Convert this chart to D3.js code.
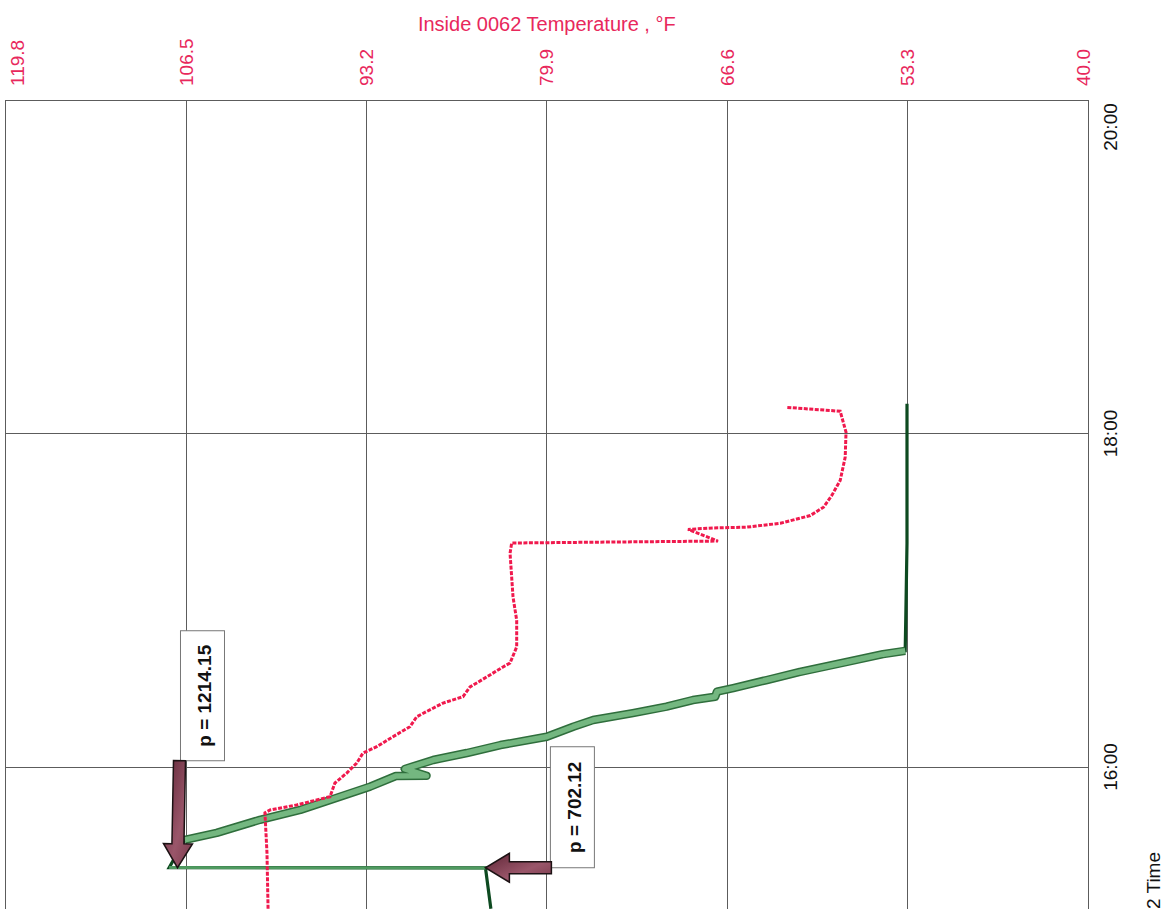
<!DOCTYPE html>
<html>
<head>
<meta charset="utf-8">
<script src="https://cdnjs.cloudflare.com/ajax/libs/d3/7.8.5/d3.min.js"></script>
<style>
  html, body { margin: 0; padding: 0; background: #fff; overflow: hidden; }
  svg { display: block; font-family: "Liberation Sans", Arial, sans-serif; }
  .gridline { stroke: #5c5c5c; stroke-width: 1; shape-rendering: crispEdges; }
  .temp-tick { fill: #e8285c; font-size: 19px; }
  .time-tick { fill: #111; font-size: 19px; }
  .callout-text { fill: #111; font-size: 19px; font-weight: bold; }
</style>
</head>
<body>
<div id="chart"></div>
<script>
// Axis ticks
const tempTicks = [119.8, 106.5, 93.2, 79.9, 66.6, 53.3, 40.0];
const timeTicks = ["16:00:00", "18:00:00", "20:00:00"];

// Inside 0062 Temperature, °F
const tempTimes = ["15:09:00", "15:29:06", "15:43:30", "15:44:33", "15:46:21", "15:48:08", "15:49:20",
  "15:54:15", "15:57:50", "16:01:26", "16:05:02", "16:07:18", "16:10:54", "16:14:30", "16:18:06",
  "16:23:00", "16:25:18", "16:28:48", "16:32:24", "16:36:00", "16:37:24", "16:43:12", "16:52:48",
  "17:01:12", "17:16:54", "17:20:36", "17:21:18", "17:25:30", "17:26:00", "17:26:18", "17:27:42",
  "17:30:30", "17:33:30", "17:37:42", "17:43:06", "17:51:30", "18:00:30", "18:08:00", "18:09:24"];
const tempValues = [100.45, 100.53, 100.68, 100.3, 98.34, 96.86, 95.88,
  95.52, 94.65, 93.91, 93.45, 92.44, 91.24, 89.99, 89.49,
  87.55, 86.08, 85.56, 84.33, 83.13, 82.61, 82.12, 82.12,
  82.39, 82.61, 82.49, 67.28, 69.49, 67.65, 65.16, 62.68,
  60.47, 59.5, 58.89, 58.27, 57.9, 57.84, 58.27, 62.21];

// Pressure, psi (second series, axis 1500 .. -300 not shown)
const pressureTimes = ["15:09:00", "15:23:42", "15:23:48", "15:33:48", "15:36:18", "15:41:00", "15:44:33",
  "15:48:08", "15:52:55", "15:56:46", "15:56:50", "15:59:17", "16:02:31", "16:05:02", "16:07:54",
  "16:10:54", "16:14:30", "16:16:54", "16:19:24", "16:21:42", "16:24:06", "16:25:18", "16:27:06",
  "16:28:24", "16:31:18", "16:34:12", "16:37:48", "16:40:36", "16:41:48", "16:54:00", "17:20:30", "18:10:42"];
const pressureValues = [693, 702, 1228, 1202, 1149, 1077, 1010,
  960, 894, 851, 800, 836, 789, 733, 677,
  600, 556, 523, 457, 401, 357, 320, 317,
  290, 234, 179, 101, 41, 4, 3, 1, 1];
const pressureDomain = [1500, -300];
const bleedStart = "15:33:48";
const bleedEnd = "16:41:48";

// Callouts
const calloutLabels = ["p = 1214.15", "p = 702.12"];
const calloutValues = [1214.15, 702.12];
const calloutTimes = ["15:23:45", "15:23:45"];

class RotatedChart {

  constructor(_config) {
    this.config = {
      parentElement: _config.parentElement,
      containerWidth: 1176,
      containerHeight: 909
    };
    this.config.margin = { top: 100, left: 5.6, right: 88, bottom: 0 };
    this.config.width = 1082.4;
    this.config.height = 667;
    this.initVis();
  }

  initVis() {
    let vis = this;
    const parse = d3.timeParse("%H:%M:%S");
    vis.parse = parse;

    vis.svg = d3.select(vis.config.parentElement).append("svg")
        .attr("width", vis.config.containerWidth)
        .attr("height", vis.config.containerHeight);

    vis.chart = vis.svg.append("g")
        .attr("transform", "translate(" + vis.config.margin.left + "," + vis.config.margin.top + ")");

    vis.xScale = d3.scaleLinear()
        .domain([tempTicks[0], tempTicks[tempTicks.length - 1]])
        .range([0, vis.config.width]);

    vis.pScale = d3.scaleLinear()
        .domain(pressureDomain)
        .range([0, vis.config.width]);

    vis.yScale = d3.scaleTime()
        .domain([parse("16:00:00"), parse("20:00:00")])
        .range([vis.config.height, 0]);

    vis.temp = tempTimes.map((t, i) => ({ t: parse(t), v: tempValues[i] }));
    vis.pressure = pressureTimes.map((t, i) => ({ t: parse(t), v: pressureValues[i] }));

    vis.renderVis();
  }

  renderVis() {
    let vis = this;
    const W = vis.config.width;
    const bottom = 830;

    // Grid
    vis.chart.selectAll(".gridline-x")
        .data(tempTicks)
      .join("line")
        .attr("class", "gridline gridline-x")
        .attr("x1", d => vis.xScale(d))
        .attr("x2", d => vis.xScale(d))
        .attr("y1", 0)
        .attr("y2", bottom);

    vis.chart.selectAll(".gridline-y")
        .data(timeTicks)
      .join("line")
        .attr("class", "gridline gridline-y")
        .attr("x1", 0)
        .attr("x2", W)
        .attr("y1", d => vis.yScale(vis.parse(d)))
        .attr("y2", d => vis.yScale(vis.parse(d)));

    // Temperature tick labels (rotated)
    vis.chart.selectAll(".temp-tick")
        .data(tempTicks)
      .join("text")
        .attr("class", "temp-tick")
        .attr("text-anchor", "start")
        .attr("dominant-baseline", "central")
        .attr("transform", (d, i) => {
          let dx = i === 0 ? 12 : (i === tempTicks.length - 1 ? -5 : 0);
          return "translate(" + (vis.xScale(d) + dx) + ",-14) rotate(-90)";
        })
        .text(d => d.toFixed(1));

    vis.chart.append("text")
        .attr("x", W / 2)
        .attr("y", -69)
        .attr("text-anchor", "middle")
        .attr("fill", "#e8285c")
        .style("font-size", "20px")
        .text("Inside 0062 Temperature , \u00B0F");

    // Time tick labels (rotated)
    const fmt = d3.timeFormat("%H:%M");
    vis.chart.selectAll(".time-tick")
        .data(timeTicks)
      .join("text")
        .attr("class", "time-tick")
        .attr("text-anchor", "middle")
        .attr("dominant-baseline", "central")
        .attr("transform", (d, i) => {
          let dy = i === timeTicks.length - 1 ? 27 : 0;
          return "translate(" + (W + 22) + "," + (vis.yScale(vis.parse(d)) + dy) + ") rotate(-90)";
        })
        .text(d => fmt(vis.parse(d)));

    // Time axis title, runs past the bottom edge as in the scan
    vis.chart.append("text")
        .attr("text-anchor", "end")
        .attr("dominant-baseline", "central")
        .attr("transform", "translate(" + (W + 65) + ",752) rotate(-90)")
        .attr("fill", "#111")
        .style("font-size", "19px")
        .text("Inside 0062 Time");

    // Pressure series
    const pLine = d3.line()
        .x(d => vis.pScale(d.v))
        .y(d => vis.yScale(d.t));

    vis.chart.append("path")
        .datum(vis.pressure)
        .attr("fill", "none")
        .attr("stroke", "#0d4a20")
        .attr("stroke-width", 3.2)
        .attr("d", pLine);

    const t0 = vis.parse(bleedStart), t1 = vis.parse(bleedEnd);
    const bleed = vis.pressure.filter(d => d.t >= t0 && d.t <= t1);

    vis.chart.append("path")
        .datum(bleed)
        .attr("fill", "none")
        .attr("stroke", "#2f6e3c")
        .attr("stroke-width", 8.5)
        .attr("stroke-linejoin", "round")
        .attr("d", pLine);

    vis.chart.append("path")
        .datum(bleed)
        .attr("fill", "none")
        .attr("stroke", "#74b780")
        .attr("stroke-width", 5.5)
        .attr("stroke-linejoin", "round")
        .attr("d", pLine);

    // Horizontal jump drawn in mid green
    vis.chart.append("path")
        .datum(vis.pressure.slice(1, 3))
        .attr("fill", "none")
        .attr("stroke", "#4f9a60")
        .attr("stroke-width", 3)
        .attr("d", pLine);

    // Temperature series
    vis.chart.append("path")
        .datum(vis.temp)
        .attr("fill", "none")
        .attr("stroke", "#f0194d")
        .attr("stroke-width", 3)
        .attr("stroke-dasharray", "4,1.5")
        .attr("d", d3.line().x(d => vis.xScale(d.v)).y(d => vis.yScale(d.t)));

    // Callouts
    const arrowPath = (x0, y0, x1, y1, shaftW, headW, headL) => {
      const dx = x1 - x0, dy = y1 - y0, L = Math.hypot(dx, dy);
      const ux = dx / L, uy = dy / L, nx = -uy, ny = ux;
      const bx = x1 - ux * headL, by = y1 - uy * headL;
      const pts = [
        [x0 + nx * shaftW / 2, y0 + ny * shaftW / 2],
        [bx + nx * shaftW / 2, by + ny * shaftW / 2],
        [bx + nx * headW / 2, by + ny * headW / 2],
        [x1, y1],
        [bx - nx * headW / 2, by - ny * headW / 2],
        [bx - nx * shaftW / 2, by - ny * shaftW / 2],
        [x0 - nx * shaftW / 2, y0 - ny * shaftW / 2]
      ];
      return "M" + pts.map(p => p.join(",")).join("L") + "Z";
    };

    const defs = vis.svg.append("defs");
    const grad = defs.append("linearGradient").attr("id", "arrowFill")
        .attr("x1", 0).attr("y1", 0).attr("x2", 1).attr("y2", 1);
    grad.append("stop").attr("offset", "0%").attr("stop-color", "#5e2535");
    grad.append("stop").attr("offset", "60%").attr("stop-color", "#9a566a");
    grad.append("stop").attr("offset", "100%").attr("stop-color", "#7a3a4c");

    calloutLabels.forEach((label, i) => {
      const tx = vis.pScale(calloutValues[i]);
      const ty = vis.yScale(vis.parse(calloutTimes[i]));
      const g = vis.chart.append("g").attr("class", "callout");
      let box, tail;
      if (i === 0) {
        box = { x: tx + 3, y: ty - 237, w: 44, h: 130 };
        tail = [tx + 2, ty - 107];
      } else {
        box = { x: tx + 65, y: ty - 121, w: 44, h: 121 };
        tail = [tx + 66, ty];
      }
      g.append("rect")
          .attr("x", box.x).attr("y", box.y)
          .attr("width", box.w).attr("height", box.h)
          .attr("fill", "#fff")
          .attr("stroke", "#777")
          .attr("stroke-width", 1);
      g.append("text")
          .attr("class", "callout-text")
          .attr("text-anchor", "middle")
          .attr("dominant-baseline", "central")
          .attr("transform", "translate(" + (box.x + box.w / 2 + 2) + "," + (box.y + box.h / 2) + ") rotate(-90)")
          .text(label);
      g.append("path")
          .attr("d", arrowPath(tail[0], tail[1], tx, ty, 12, 29, 24))
          .attr("fill", "url(#arrowFill)")
          .attr("stroke", "#1c1214")
          .attr("stroke-width", 1.5)
          .attr("stroke-linejoin", "miter");
    });

    // Plot frame (top and right)
    vis.chart.append("line").attr("class", "gridline")
        .attr("x1", 0).attr("x2", W).attr("y1", 0).attr("y2", 0);
    vis.chart.append("line").attr("class", "gridline")
        .attr("x1", W).attr("x2", W).attr("y1", 0).attr("y2", bottom);
  }
}

new RotatedChart({ parentElement: "#chart" });
</script>
</body>
</html>
